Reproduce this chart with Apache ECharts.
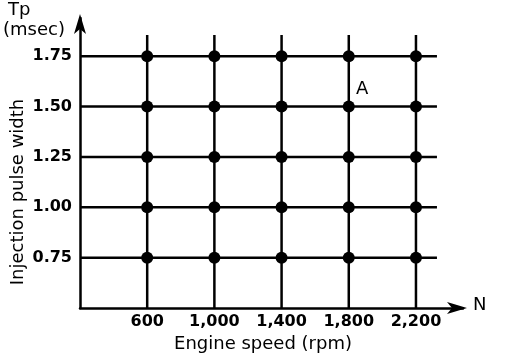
<!DOCTYPE html>
<html><head><meta charset="utf-8">
<script src="https://cdn.jsdelivr.net/npm/echarts@6/dist/echarts.min.js"></script>
<style>html,body{margin:0;padding:0;background:#fff}#c{width:512px;height:360px}</style>
</head><body><div id="c"></div>
<script>
const speeds = [600, 1000, 1400, 1800, 2200];
const pulseWidths = [0.75, 1.00, 1.25, 1.50, 1.75];
const xTickLabels = ['600', '1,000', '1,400', '1,800', '2,200'];
const yTickLabels = ['0.75', '1.00', '1.25', '1.50', '1.75'];
const xMin = 200, xMax = 2480, yMin = 0.5, yMax = 1.94;
const hLineEnd = 2325, vLineEnd = 1.855;

const chart = echarts.init(document.getElementById('c'));
const series = [];
pulseWidths.forEach(v => series.push({
  type: 'line', data: [[xMin, v], [hLineEnd, v]], symbol: 'none', silent: true,
  lineStyle: {color: '#000', width: 2.5}
}));
speeds.forEach(s => series.push({
  type: 'line', data: [[s, yMin], [s, vLineEnd]], symbol: 'none', silent: true,
  lineStyle: {color: '#000', width: 2.5}
}));
const pts = [];
speeds.forEach(s => pulseWidths.forEach(v => pts.push([s, v])));
series.push({type: 'scatter', data: pts, symbolSize: 12, itemStyle: {color: '#000', opacity: 1}, z: 5});

const font = 'DejaVu Sans';
const txt = (text, extra) => Object.assign({fill: '#000', fontFamily: font, fontSize: 18, text: text}, extra || {});
chart.setOption({
  animation: false,
  backgroundColor: '#fff',
  grid: {left: 80, right: 49, top: 18, bottom: 52},
  xAxis: {
    type: 'value', min: xMin, max: xMax, interval: 400,
    axisLine: {lineStyle: {color: '#000', width: 2.5}, symbol: ['none', 'arrow'], symbolSize: [9, 20], symbolOffset: [0, 4]},
    axisTick: {show: false}, splitLine: {show: false},
    axisLabel: {color: '#000', fontFamily: font, fontWeight: 'bold', fontSize: 16, margin: 6, showMaxLabel: false,
      formatter: v => { const i = speeds.indexOf(v); return i >= 0 ? xTickLabels[i] : ''; }}
  },
  yAxis: {
    type: 'value', min: yMin, max: yMax, interval: 0.25,
    axisLine: {lineStyle: {color: '#000', width: 2.5}, symbol: ['none', 'arrow'], symbolSize: [9, 20], symbolOffset: [0, 4]},
    axisTick: {show: false}, splitLine: {show: false},
    axisLabel: {color: '#000', fontFamily: font, fontWeight: 'bold', fontSize: 16, margin: 8,
      formatter: v => { const i = pulseWidths.findIndex(p => Math.abs(p - v) < 1e-6); return i >= 0 ? yTickLabels[i] : ''; }}
  },
  graphic: [
    {type: 'text', left: 8, top: 1, style: txt('Tp')},
    {type: 'text', left: 3, top: 21, style: txt('(msec)')},
    {type: 'text', left: 473, top: 296, style: txt('N')},
    {type: 'text', left: 356, top: 80, style: txt('A')},
    {type: 'text', x: 263, y: 344, style: txt('Engine speed (rpm)', {align: 'center', verticalAlign: 'middle'})},
    {type: 'text', x: 18, y: 192, rotation: Math.PI / 2, style: txt('Injection pulse width', {align: 'center', verticalAlign: 'middle'})}
  ],
  series: series
});
</script>
</body></html>
